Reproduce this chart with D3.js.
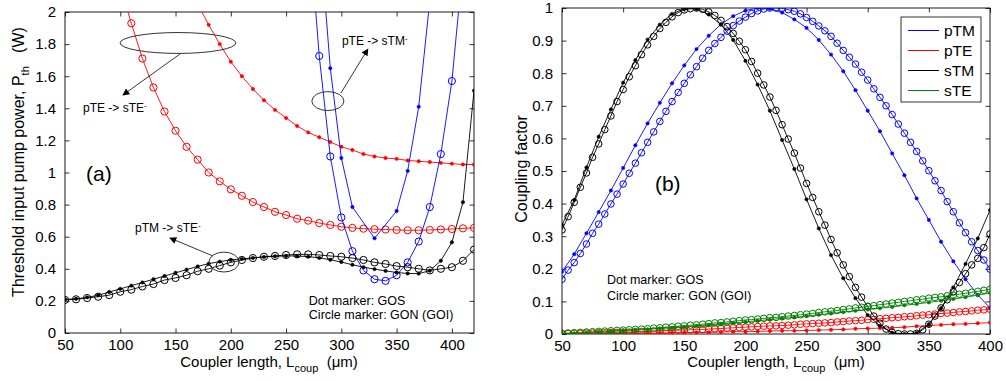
<!DOCTYPE html>
<html>
<head>
<meta charset="utf-8">
<script src="https://cdn.jsdelivr.net/npm/d3@7"></script>
<style>
    body { margin: 0; background: #fff; }
    text { font-family: "Liberation Sans", Arial, sans-serif; fill: #000; }
</style>
</head>
<body>
<div id="container"></div>
<script>

// ---------- data, panel (a): threshold pump power (W) ----------
const lenA = [50,60,70,80,90,100,110,120,130,140,150,160,170,180,190,200,210,220,230,240,250,260,270,280,290,300,310,320,330,340,350,360,370,380,390,400,410,420];
const pTMsTEgon = [0.206,0.21,0.218,0.226,0.236,0.257,0.27,0.29,0.305,0.33,0.343,0.36,0.385,0.40,0.42,0.44,0.455,0.467,0.475,0.48,0.486,0.49,0.49,0.486,0.48,0.475,0.467,0.455,0.44,0.43,0.417,0.41,0.40,0.39,0.40,0.41,0.45,0.52];
const pTMsTEgos = [0.21,0.213,0.222,0.235,0.255,0.275,0.295,0.315,0.335,0.355,0.375,0.395,0.415,0.432,0.445,0.455,0.462,0.468,0.474,0.478,0.48,0.48,0.476,0.468,0.456,0.442,0.425,0.41,0.398,0.387,0.377,0.371,0.37,0.388,0.45,0.565,0.815,1.51];

const lenTEgon = [100,110,120,130,140,150,160,170,180,190,200,210,220,230,240,250,260,270,280,290,300,310,320,330,340,350,360,370,380,390,400,410,420];
const pTEsTEgon = [2.16,1.93,1.71,1.53,1.38,1.26,1.16,1.08,1.00,0.945,0.895,0.855,0.816,0.785,0.755,0.735,0.712,0.70,0.685,0.673,0.662,0.655,0.65,0.647,0.645,0.642,0.64,0.64,0.642,0.645,0.648,0.652,0.655];
const lenTEgos = [170,180,190,200,210,220,230,240,250,260,270,280,290,300,310,320,330,340,350,360,370,380,390,400,410,420];
const pTEsTEgos = [2.05,1.92,1.80,1.69,1.60,1.52,1.45,1.39,1.34,1.29,1.25,1.22,1.19,1.16,1.14,1.115,1.10,1.09,1.085,1.075,1.07,1.065,1.06,1.055,1.05,1.05];

const lenTMgon = [270,280,290,300,310,320,330,340,350,360,370,380,390,400,410];
const pTEsTMgon = [2.6,1.726,1.10,0.72,0.51,0.39,0.335,0.325,0.36,0.44,0.57,0.785,1.115,1.57,2.29];
const lenTMgos = [280,290,300,310,330,350,360,370,380];
const pTEsTMgos = [2.52,1.65,1.09,0.785,0.59,0.76,1.01,1.41,2.07];

const xTicksA = [50,100,150,200,250,300,350,400];
const yTicksA = [0,0.2,0.4,0.6,0.8,1,1.2,1.4,1.6,1.8,2];

// ---------- data, panel (b): coupling factor ----------
const lenB5 = [50,55,60,65,70,75,80,85,90,95,100,105,110,115,120,125,130,135,140,145,150,155,160,165,170,175,180,185,190,195,200,205,210,215,220,225,230,235,240,245,250,255,260,265,270,275,280,285,290,295,300,305,310,315,320,325,330,335,340,345,350,355,360,365,370,375,380,385,390,395,400];
const lenB10 = [50,60,70,80,90,100,110,120,130,140,150,160,170,180,190,200,210,220,230,240,250,260,270,280,290,300,310,320,330,340,350,360,370,380,390,400];

const pTMgon = [0.168,0.196,0.219,0.247,0.276,0.309,0.337,0.368,0.399,0.429,0.460,0.493,0.524,0.556,0.588,0.620,0.652,0.683,0.713,0.741,0.769,0.795,0.820,0.846,0.870,0.891,0.910,0.929,0.946,0.960,0.972,0.983,0.991,0.997,1.0,1.0,0.999,0.995,0.990,0.982,0.971,0.959,0.945,0.930,0.913,0.892,0.870,0.849,0.828,0.803,0.779,0.752,0.726,0.700,0.673,0.644,0.616,0.588,0.560,0.531,0.501,0.470,0.440,0.406,0.375,0.341,0.311,0.283,0.256,0.227,0.199];
const pTEgon = [0.001,0.001,0.002,0.002,0.003,0.003,0.004,0.004,0.005,0.005,0.006,0.006,0.007,0.008,0.008,0.009,0.010,0.010,0.011,0.012,0.012,0.013,0.014,0.014,0.015,0.016,0.017,0.018,0.019,0.020,0.021,0.022,0.023,0.024,0.025,0.025,0.026,0.027,0.028,0.030,0.031,0.032,0.033,0.034,0.035,0.037,0.038,0.040,0.041,0.042,0.044,0.045,0.047,0.048,0.050,0.051,0.053,0.054,0.056,0.058,0.059,0.061,0.063,0.064,0.066,0.068,0.069,0.071,0.073,0.074,0.076];
const sTMgon = [0.319,0.360,0.404,0.450,0.494,0.542,0.583,0.627,0.669,0.713,0.750,0.789,0.823,0.857,0.887,0.913,0.937,0.956,0.973,0.986,0.994,0.998,1.0,0.996,0.988,0.977,0.962,0.943,0.922,0.898,0.872,0.836,0.800,0.764,0.727,0.686,0.642,0.598,0.555,0.509,0.462,0.419,0.375,0.334,0.290,0.249,0.212,0.176,0.143,0.113,0.084,0.055,0.033,0.015,0.005,0.001,0.0,0.0,0.002,0.013,0.030,0.055,0.080,0.105,0.130,0.158,0.185,0.212,0.232,0.265,0.307];
const sTEgon = [0.002,0.003,0.004,0.005,0.006,0.007,0.008,0.009,0.010,0.011,0.012,0.013,0.014,0.015,0.016,0.018,0.019,0.021,0.022,0.024,0.025,0.027,0.028,0.030,0.032,0.034,0.035,0.037,0.039,0.041,0.043,0.044,0.046,0.048,0.050,0.051,0.053,0.055,0.057,0.059,0.061,0.063,0.066,0.068,0.070,0.072,0.075,0.077,0.080,0.082,0.085,0.087,0.090,0.092,0.095,0.097,0.100,0.102,0.105,0.107,0.110,0.112,0.114,0.117,0.119,0.122,0.125,0.128,0.131,0.134,0.137];

const pTMgos = [0.191,0.245,0.309,0.374,0.440,0.509,0.579,0.646,0.709,0.769,0.824,0.874,0.915,0.950,0.975,0.992,1.0,0.998,0.986,0.965,0.939,0.902,0.857,0.806,0.748,0.685,0.622,0.554,0.487,0.416,0.350,0.283,0.223,0.168,0.120,0.080];
const pTEgos = [0,0.001,0.001,0.001,0.002,0.002,0.002,0.003,0.003,0.004,0.004,0.005,0.005,0.006,0.007,0.007,0.008,0.009,0.010,0.010,0.011,0.012,0.013,0.014,0.016,0.017,0.018,0.019,0.021,0.024,0.026,0.028,0.030,0.031,0.033,0.035];
const sTMgos = [0.335,0.411,0.511,0.605,0.689,0.771,0.840,0.903,0.949,0.982,0.998,0.997,0.980,0.949,0.902,0.838,0.765,0.685,0.595,0.506,0.413,0.324,0.242,0.171,0.110,0.058,0.025,0.004,0.0,0.003,0.030,0.079,0.143,0.215,0.293,0.380];
const sTEgos = [0.001,0.002,0.004,0.006,0.008,0.010,0.012,0.014,0.017,0.019,0.022,0.025,0.028,0.031,0.034,0.037,0.041,0.044,0.048,0.051,0.055,0.059,0.063,0.067,0.071,0.075,0.079,0.083,0.088,0.092,0.097,0.102,0.107,0.113,0.119,0.126];

const xTicksB = [50,100,150,200,250,300,350,400];
const yTicksB = [0,0.1,0.2,0.3,0.4,0.5,0.6,0.7,0.8,0.9,1];

const legendNames = ['pTM', 'pTE', 'sTM', 'sTE'];
const colors = { pTM: '#0000ff', pTE: '#ff0000', sTM: '#000000', sTE: '#008000' };

// ---------- svg ----------
const w = 1006;
const h = 381;
const svg = d3.select('#container')
                .append('svg')
                .attr('width', w)
                .attr('height', h);

const zip = (xs, ys) => xs.map((d, i) => [d, ys[i]]);

// draw one axes box with ticks on all four sides
function makePanel(id, box, xDomain, yDomain, xTicks, yTicks) {
    const xScale = d3.scaleLinear().domain(xDomain).range([box.left, box.right]);
    const yScale = d3.scaleLinear().domain(yDomain).range([box.bottom, box.top]);
    const tick = -4.5;

    const styleAxis = g => {
        g.select('.domain').remove();
        g.selectAll('line').attr('stroke', '#000').attr('stroke-width', 0.8);
        g.selectAll('text').attr('font-size', 15).attr('font-family', '"Liberation Sans", Arial, sans-serif');
        g.attr('font-family', null).attr('font-size', null);
    };

    svg.append('g')
        .attr('transform', `translate(0, ${box.bottom})`)
        .call(d3.axisBottom(xScale).tickValues(xTicks).tickSize(tick).tickPadding(6).tickFormat(d => d))
        .call(styleAxis);
    svg.append('g')
        .attr('transform', `translate(0, ${box.top})`)
        .call(d3.axisTop(xScale).tickValues(xTicks).tickSize(tick).tickFormat(''))
        .call(styleAxis);
    svg.append('g')
        .attr('transform', `translate(${box.left}, 0)`)
        .call(d3.axisLeft(yScale).tickValues(yTicks).tickSize(tick).tickPadding(9).tickFormat(d => d))
        .call(styleAxis);
    svg.append('g')
        .attr('transform', `translate(${box.right}, 0)`)
        .call(d3.axisRight(yScale).tickValues(yTicks).tickSize(tick).tickFormat(''))
        .call(styleAxis);

    // frame
    svg.append('rect')
        .attr('x', box.left).attr('y', box.top)
        .attr('width', box.right - box.left).attr('height', box.bottom - box.top)
        .attr('fill', 'none').attr('stroke', '#000').attr('stroke-width', 0.9);

    // clip area for data
    svg.append('clipPath').attr('id', id)
        .append('rect')
        .attr('x', box.left).attr('y', box.top)
        .attr('width', box.right - box.left).attr('height', box.bottom - box.top);
    const plot = svg.append('g').attr('clip-path', `url(#${id})`);

    return { xScale, yScale, plot };
}

// line with either open circles or small dots
function drawSeries(p, pts, color, marker, r) {
    const line = d3.line().x(d => p.xScale(d[0])).y(d => p.yScale(d[1]));
    p.plot.append('path')
        .datum(pts)
        .attr('d', line)
        .attr('fill', 'none')
        .attr('stroke', color)
        .attr('stroke-width', 0.9);
    p.plot.append('g')
        .selectAll('circle')
        .data(pts)
        .join('circle')
        .attr('cx', d => p.xScale(d[0]))
        .attr('cy', d => p.yScale(d[1]))
        .attr('r', marker === 'o' ? r : 1.7)
        .attr('fill', marker === 'o' ? 'none' : color)
        .attr('stroke', color)
        .attr('stroke-width', marker === 'o' ? 1 : 0.5);
}

// arrow head marker
svg.append('defs').append('marker')
    .attr('id', 'head')
    .attr('viewBox', '0 0 10 10')
    .attr('refX', 9).attr('refY', 5)
    .attr('markerWidth', 9).attr('markerHeight', 7)
    .attr('markerUnits', 'userSpaceOnUse')
    .attr('orient', 'auto')
    .append('path')
    .attr('d', 'M0,0 L10,5 L0,10 Z')
    .attr('fill', '#000');

// text helper with optional subscript / superscript parts
function label(sel, parts) {
    parts.forEach(pt => {
        const t = sel.append('tspan').text(pt.t);
        if (pt.dy) t.attr('dy', pt.dy);
        if (pt.fs) t.attr('font-size', pt.fs);
    });
    return sel;
}

// ================= panel (a) =================
const pa = makePanel('clipA', { left: 65, right: 474, top: 12, bottom: 333 }, [50, 420], [0, 2], xTicksA, yTicksA);

drawSeries(pa, zip(lenTEgon, pTEsTEgon), colors.pTE, 'o', 3.6);
drawSeries(pa, zip(lenTEgos, pTEsTEgos), colors.pTE, '.', 0);
drawSeries(pa, zip(lenTMgon, pTEsTMgon), colors.pTM, 'o', 3.6);
drawSeries(pa, zip(lenTMgos, pTEsTMgos), colors.pTM, '.', 0);
drawSeries(pa, zip(lenA, pTMsTEgos), colors.sTM, '.', 0);
drawSeries(pa, zip(lenA, pTMsTEgon), colors.sTM, 'o', 3.6);

// annotations (data units)
const notesA = [
    { cx: 152.2, cy: 1.807, rx: 52.4, ry: 0.065, from: [154, 1.738], to: [102.4, 1.483], tx: 66.3, ty: 1.377, a: 'pTE -> sTE' },
    { cx: 287.8, cy: 1.445, rx: 14.5, ry: 0.059, from: [299.6, 1.495], to: [324, 1.769], tx: 300.5, ty: 1.794, a: 'pTE -> sTM' },
    { cx: 193.8, cy: 0.442, rx: 13.6, ry: 0.062, from: [183.8, 0.48], to: [144.9, 0.592], tx: 113.3, ty: 0.629, a: 'pTM -> sTE' }
];
const kx = pa.xScale(1) - pa.xScale(0);
const ky = pa.yScale(0) - pa.yScale(1);
notesA.forEach(n => {
    svg.append('ellipse')
        .attr('cx', pa.xScale(n.cx)).attr('cy', pa.yScale(n.cy))
        .attr('rx', n.rx * kx).attr('ry', n.ry * ky)
        .attr('fill', 'none').attr('stroke', '#333').attr('stroke-width', 1);
    svg.append('line')
        .attr('x1', pa.xScale(n.from[0])).attr('y1', pa.yScale(n.from[1]))
        .attr('x2', pa.xScale(n.to[0])).attr('y2', pa.yScale(n.to[1]))
        .attr('stroke', '#000').attr('stroke-width', 0.8)
        .attr('marker-end', 'url(#head)');
    label(svg.append('text')
        .attr('x', pa.xScale(n.tx)).attr('y', pa.yScale(n.ty))
        .attr('font-size', 12), [{ t: n.a }, { t: '-', dy: -4, fs: 8 }]);
});

svg.append('text')
    .attr('x', pa.xScale(69)).attr('y', pa.yScale(0.947))
    .attr('font-size', 21)
    .text('(a)');
svg.append('text')
    .attr('x', pa.xScale(270.6)).attr('y', pa.yScale(0.1745))
    .attr('font-size', 12.5)
    .text('Dot marker: GOS');
svg.append('text')
    .attr('x', pa.xScale(270.6)).attr('y', pa.yScale(0.087))
    .attr('font-size', 12.5)
    .text('Circle marker: GON (GOI)');

// axis titles
label(svg.append('text')
    .attr('x', 269).attr('y', 367)
    .attr('text-anchor', 'middle')
    .attr('font-size', 15),
    [{ t: 'Coupler length, L' }, { t: 'coup', dy: 5, fs: 11 }, { t: '\u00a0\u00a0(\u03bcm)', dy: -5, fs: 15 }]);

label(svg.append('text')
    .attr('transform', 'translate(24, 162) rotate(-90)')
    .attr('text-anchor', 'middle')
    .attr('font-size', 16),
    [{ t: 'Threshold input pump power, P' }, { t: 'th', dy: 5, fs: 11 }, { t: '\u00a0\u00a0\u00a0(W)', dy: -5, fs: 16 }]);

// ================= panel (b) =================
const pb = makePanel('clipB', { left: 562, right: 990, top: 8, bottom: 334 }, [50, 400], [0, 1], xTicksB, yTicksB);

drawSeries(pb, zip(lenB5, pTMgon), colors.pTM, 'o', 3.3);
drawSeries(pb, zip(lenB10, pTMgos), colors.pTM, '.', 0);
drawSeries(pb, zip(lenB5, pTEgon), colors.pTE, 'o', 3.3);
drawSeries(pb, zip(lenB10, pTEgos), colors.pTE, '.', 0);
drawSeries(pb, zip(lenB5, sTMgon), colors.sTM, 'o', 3.3);
drawSeries(pb, zip(lenB10, sTMgos), colors.sTM, '.', 0);
drawSeries(pb, zip(lenB5, sTEgon), colors.sTE, 'o', 3.3);
drawSeries(pb, zip(lenB10, sTEgos), colors.sTE, '.', 0);

svg.append('text')
    .attr('x', pb.xScale(126)).attr('y', pb.yScale(0.439))
    .attr('font-size', 21)
    .text('(b)');
svg.append('text')
    .attr('x', pb.xScale(86.8)).attr('y', pb.yScale(0.153))
    .attr('font-size', 12.5)
    .text('Dot marker: GOS');
svg.append('text')
    .attr('x', pb.xScale(86.8)).attr('y', pb.yScale(0.104))
    .attr('font-size', 12.5)
    .text('Circle marker: GON (GOI)');

label(svg.append('text')
    .attr('x', 776).attr('y', 367)
    .attr('text-anchor', 'middle')
    .attr('font-size', 15),
    [{ t: 'Coupler length, L' }, { t: 'coup', dy: 5, fs: 11 }, { t: '\u00a0\u00a0(\u03bcm)', dy: -5, fs: 15 }]);

svg.append('text')
    .attr('transform', 'translate(527, 169) rotate(-90)')
    .attr('text-anchor', 'middle')
    .attr('font-size', 16)
    .text('Coupling factor');

// legend
const legend = svg.append('g').attr('transform', 'translate(901, 17)');
legend.append('rect')
    .attr('width', 80).attr('height', 85)
    .attr('fill', '#fff').attr('stroke', '#000').attr('stroke-width', 0.8);
legendNames.forEach((name, i) => {
    const yy = 13.5 + i * 20;
    legend.append('line')
        .attr('x1', 7).attr('x2', 38).attr('y1', yy).attr('y2', yy)
        .attr('stroke', colors[name]).attr('stroke-width', 1);
    legend.append('text')
        .attr('x', 43).attr('y', yy).attr('dy', '0.36em')
        .attr('font-size', 15.5)
        .text(name);
});

</script>
</body>
</html>
